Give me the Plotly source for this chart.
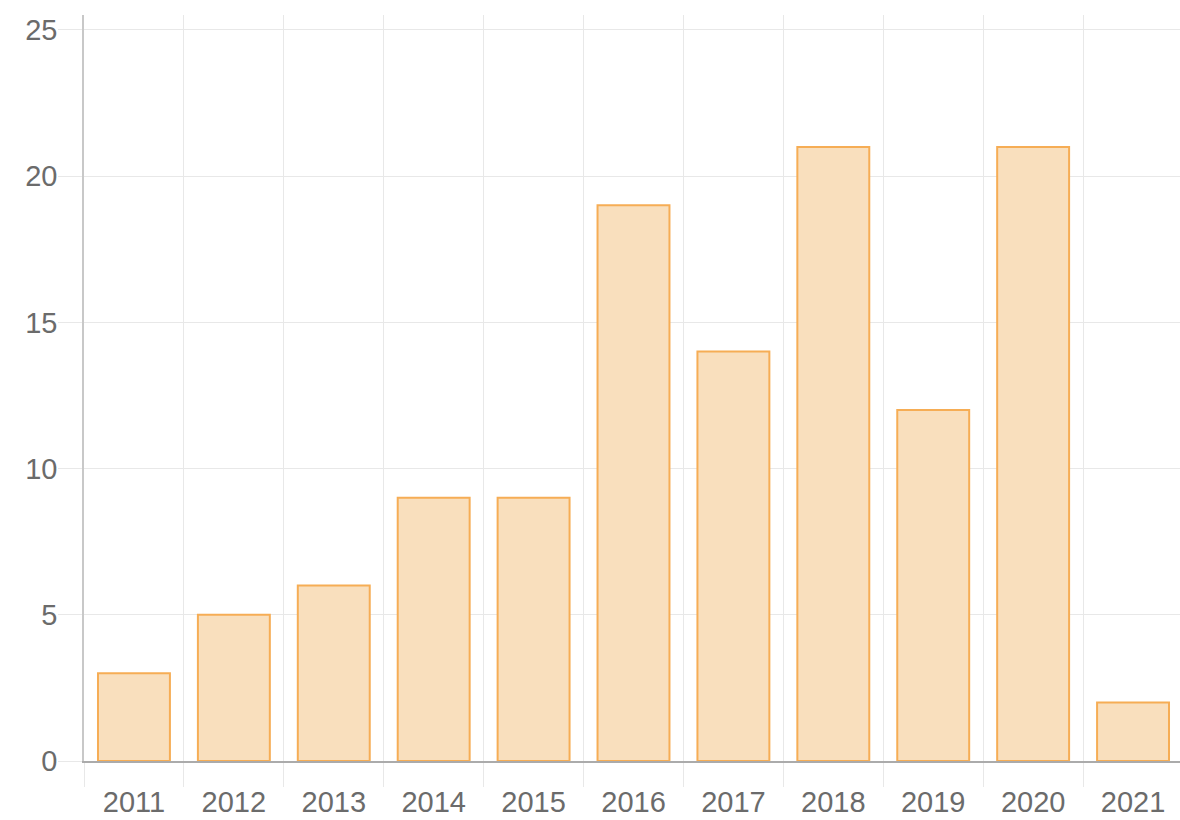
import plotly.graph_objects as go

years = ["2011", "2012", "2013", "2014", "2015", "2016", "2017", "2018", "2019", "2020", "2021"]
counts = [3, 5, 6, 9, 9, 19, 14, 21, 12, 21, 2]
y_ticks = [0, 5, 10, 15, 20, 25]

fig = go.Figure(
    go.Bar(
        x=years,
        y=counts,
        width=0.72,
        marker=dict(color="#F9DFBD", line=dict(color="#F6AD55", width=2)),
        hoverinfo="x+y",
    )
)

font = dict(family="Liberation Sans, Arial, Helvetica, sans-serif", size=29, color="#6B6B6B")

fig.update_layout(
    width=1180,
    height=820,
    margin=dict(l=84, r=0, t=15, b=59),
    paper_bgcolor="white",
    plot_bgcolor="white",
    showlegend=False,
    font=font,
    bargap=0.28,
)
fig.update_xaxes(
    type="category",
    range=[-0.5, 10.47],
    tickson="boundaries",
    showgrid=True,
    gridcolor="#E8E8E8",
    gridwidth=1,
    ticks="outside",
    ticklen=24,
    tickcolor="#E8E8E8",
    ticklabelstandoff=14,
    showline=True,
    linecolor="#ABABAB",
    linewidth=1.5,
    tickfont=font,
)
fig.update_yaxes(
    range=[0, 25.51],
    tickvals=y_ticks,
    showgrid=True,
    gridcolor="#E8E8E8",
    gridwidth=1,
    ticks="outside",
    ticklen=24,
    tickcolor="#E8E8E8",
    ticklabelstandoff=-5,
    showline=True,
    linecolor="#C8C8C8",
    linewidth=1.5,
    zeroline=False,
    tickfont=font,
)

fig.write_html(
    "out.html",
    config={"displayModeBar": False},
    post_script="document.body.style.margin='0';document.body.style.overflow='hidden';",
)
